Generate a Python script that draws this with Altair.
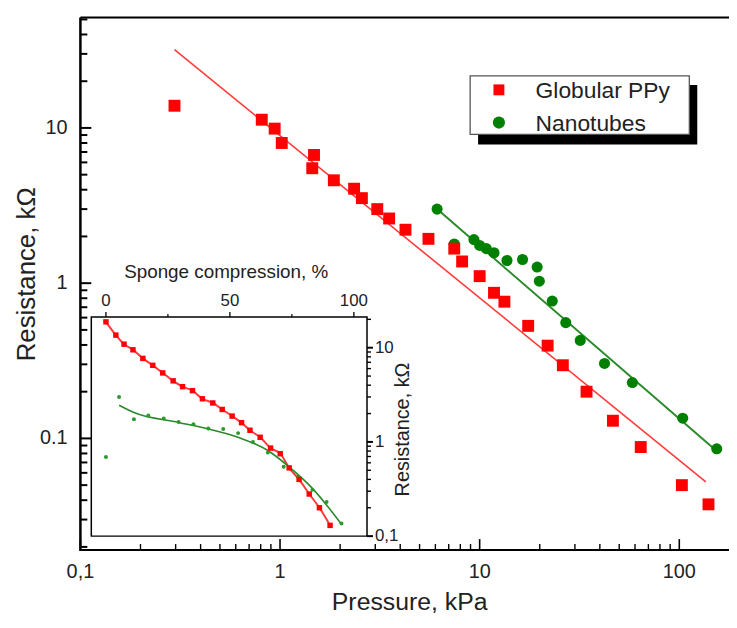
import altair as alt
import pandas as pd

# ---------------- data ----------------
SERIES = ["Globular PPy", "Nanotubes"]

# main plot: pressure (kPa) vs resistance (kOhm)
P_red = [0.296, 0.81, 0.94, 1.02, 1.48, 1.45, 1.86, 2.35, 2.57, 3.07, 3.52, 4.25, 5.54,
         7.46, 8.17, 10.0, 11.8, 13.3, 17.5, 21.9, 26.1, 34.3, 46.5, 64.1, 103, 140]
R_red = [13.9, 11.3, 9.9, 8.0, 6.7, 5.5, 4.6, 4.06, 3.53, 3.0, 2.61, 2.21, 1.93,
         1.67, 1.38, 1.11, 0.867, 0.76, 0.531, 0.396, 0.296, 0.20, 0.13, 0.088, 0.050, 0.0376]

P_green = [6.12, 7.46, 9.36, 10.0, 10.8, 11.8, 13.7, 16.4, 19.4, 19.9, 23.1, 27.0, 31.9,
           42.2, 58.2, 104, 154]
R_green = [3.0, 1.79, 1.91, 1.75, 1.67, 1.57, 1.40, 1.42, 1.27, 1.03, 0.767, 0.557, 0.428,
           0.304, 0.229, 0.135, 0.0857]

# power-law fit lines (end points)
P_fit_red = [0.296, 135.8]
R_fit_red = [31.9, 0.0525]
P_fit_green = [6.12, 149.3]
R_fit_green = [3.0, 0.0857]

# inset: sponge compression (%) vs resistance (kOhm)
C_red = [0, 4, 7.3, 10.9, 14.9, 18.9, 22.9, 27.1, 30.9, 34.9, 38.9, 43.1, 46.9, 50.9,
         54.7, 58.1, 62.2, 66.4, 70.3, 73.9, 77.9, 82, 86.1, 90.4]
RC_red = [18.8, 13.6, 10.9, 9.5, 7.7, 6.5, 5.4, 4.45, 3.86, 3.5, 2.87, 2.59, 2.21, 1.88,
          1.60, 1.33, 1.12, 0.86, 0.75, 0.53, 0.40, 0.28, 0.20, 0.13]
C_green = [0, 5.3, 11.3, 17.1, 23.3, 29.3, 35.3, 41.3, 47.3, 53.3, 59.3, 65.3, 71.7,
           77.6, 83.3, 89, 95]
RC_green = [0.69, 3.0, 1.74, 1.91, 1.77, 1.63, 1.54, 1.39, 1.37, 1.24, 1.0, 0.77, 0.545,
            0.43, 0.31, 0.23, 0.136]
C_fit_green = [5.3, 11.3, 29.3, 41.3, 53.3, 65.3, 74.7, 82.7, 95]
RC_fit_green = [2.45, 2.05, 1.61, 1.37, 1.12, 0.81, 0.52, 0.333, 0.134]

# tick values / labels
X_MAJOR = [0.1, 1, 10, 100]
X_LABELS = ["0,1", "1", "10", "100"]
X_MINOR = [0.2, 0.3, 0.4, 0.5, 0.6, 0.7, 0.8, 0.9, 2, 3, 4, 5, 6, 7, 8, 9,
           20, 30, 40, 50, 60, 70, 80, 90]
Y_MAJOR = [0.1, 1, 10]
Y_LABELS = ["0.1", "1", "10"]
Y_MINOR = [0.02, 0.03, 0.04, 0.05, 0.06, 0.07, 0.08, 0.09, 0.2, 0.3, 0.4, 0.5, 0.6, 0.7,
           0.8, 0.9, 2, 3, 4, 5, 6, 7, 8, 9, 20, 30, 40, 50]
INSET_X_MAJOR = [0, 50, 100]
INSET_X_LABELS = ["0", "50", "100"]
INSET_X_MINOR = [25, 75]
INSET_Y_MAJOR = [0.1, 1, 10]
INSET_Y_LABELS = ["0,1", "1", "10"]
INSET_Y_MINOR = [0.2, 0.3, 0.4, 0.5, 0.6, 0.7, 0.8, 0.9, 2, 3, 4, 5, 6, 7, 8, 9, 20]

X_TITLE = "Pressure, kPa"
Y_TITLE = "Resistance, kΩ"
INSET_X_TITLE = "Sponge compression, %"
INSET_Y_TITLE = "Resistance, kΩ"

# ---------------- layout ----------------
FONT = "Liberation Sans"
TXT = "#222222"
RED = "#ff0000"
RED_LINE = "#ff3b3b"
GREEN = "#008000"
GREEN_LINE = "#2a8a2a"

W, H = 654, 537
X_DOM = [0.1, 177.4]
Y_DOM = [0.0191, 51.5]
# inset box inside the plot area (pixels)
IX0, IX1, IY0, IY1 = 11, 289, 302, 523
IX_DOM = [-5.9, 105.3]
IY_DOM = [0.1, 21.2]

one = pd.DataFrame({"k": [0]})

xs = alt.Scale(type="log", domain=X_DOM, nice=False)
ys = alt.Scale(type="log", domain=Y_DOM, nice=False)

df_red = pd.DataFrame({"P": P_red, "R": R_red})
df_green = pd.DataFrame({"P": P_green, "R": R_green})
df_fr = pd.DataFrame({"P": P_fit_red, "R": R_fit_red})
df_fg = pd.DataFrame({"P": P_fit_green, "R": R_fit_green})


def X(f, s):
    return alt.X(f, scale=s, axis=None)


def Y(f, s):
    return alt.Y(f, scale=s, axis=None)


fit_red = alt.Chart(df_fr).mark_line(color=RED_LINE, strokeWidth=1.6).encode(
    x=X("P:Q", xs), y=Y("R:Q", ys))
fit_green = alt.Chart(df_fg).mark_line(color=GREEN_LINE, strokeWidth=2).encode(
    x=X("P:Q", xs), y=Y("R:Q", ys))
pts_green = alt.Chart(df_green).mark_circle(color=GREEN, size=125, opacity=1).encode(
    x=X("P:Q", xs), y=Y("R:Q", ys))
pts_red = alt.Chart(df_red).mark_square(color=RED, size=144, opacity=1).encode(
    x=X("P:Q", xs), y=Y("R:Q", ys))

# inward ticks of the main frame
xt_major = alt.Chart(pd.DataFrame({"v": X_MAJOR})).mark_rule(color="black", strokeWidth=1.6).encode(
    x=X("v:Q", xs), y=alt.value(H), y2=alt.value(H - 11))
xt_minor = alt.Chart(pd.DataFrame({"v": X_MINOR})).mark_rule(color="black", strokeWidth=1.4).encode(
    x=X("v:Q", xs), y=alt.value(H), y2=alt.value(H - 6))
yt_major = alt.Chart(pd.DataFrame({"v": Y_MAJOR})).mark_rule(color="black", strokeWidth=2).encode(
    y=Y("v:Q", ys), x=alt.value(0), x2=alt.value(11))
yt_minor = alt.Chart(pd.DataFrame({"v": Y_MINOR})).mark_rule(color="black", strokeWidth=2).encode(
    y=Y("v:Q", ys), x=alt.value(0), x2=alt.value(7))

# tick labels and titles (as text marks)
xl = alt.Chart(pd.DataFrame({"v": X_MAJOR, "t": X_LABELS})).mark_text(
    fontSize=20, font=FONT, color=TXT, baseline="middle", align="center").encode(
    x=X("v:Q", xs), y=alt.value(H + 22.5), text="t:N")
yl = alt.Chart(pd.DataFrame({"v": Y_MAJOR, "t": Y_LABELS})).mark_text(
    fontSize=20, font=FONT, color=TXT, baseline="middle", align="right").encode(
    y=Y("v:Q", ys), x=alt.value(-13), text="t:N")
xtitle = alt.Chart(one).mark_text(text=X_TITLE, fontSize=25, font=FONT, color=TXT,
                                  baseline="alphabetic", align="center").encode(
    x=alt.value(332), y=alt.value(H + 60))
ytitle = alt.Chart(one).mark_text(text=Y_TITLE, fontSize=26, font=FONT, color=TXT,
                                  baseline="middle", align="center", angle=270).encode(
    x=alt.value(-54), y=alt.value(259))

# frame lines (left, bottom, top)
f_top = alt.Chart(one).mark_rule(color="black", strokeWidth=2).encode(
    x=alt.value(0), x2=alt.value(W + 10), y=alt.value(0))
f_left = alt.Chart(one).mark_rule(color="black", strokeWidth=2.5).encode(
    x=alt.value(0), y=alt.value(0), y2=alt.value(H + 1))
f_bottom = alt.Chart(one).mark_rule(color="black", strokeWidth=2.2).encode(
    x=alt.value(0), x2=alt.value(W + 10), y=alt.value(H))

# legend box with shadow
LX0, LY0, LX1, LY1 = 393, 59, 614, 118
leg_shadow = alt.Chart(one).mark_rect(color="black").encode(
    x=alt.value(LX0 + 8), x2=alt.value(LX1 + 8), y=alt.value(LY0 + 9), y2=alt.value(LY1 + 10))
leg_box = alt.Chart(one).mark_rect(fill="white", stroke="#555555", strokeWidth=1.3).encode(
    x=alt.value(LX0), x2=alt.value(LX1), y=alt.value(LY0), y2=alt.value(LY1))
leg_sq = alt.Chart(one).mark_square(color=RED, size=121, opacity=1).encode(
    x=alt.value(422), y=alt.value(73))
leg_ci = alt.Chart(one).mark_circle(color=GREEN, size=150, opacity=1).encode(
    x=alt.value(422), y=alt.value(106))
leg_t1 = alt.Chart(one).mark_text(text=SERIES[0], align="left", baseline="middle",
                                  fontSize=23, font=FONT, color=TXT).encode(
    x=alt.value(459), y=alt.value(74))
leg_t2 = alt.Chart(one).mark_text(text=SERIES[1], align="left", baseline="middle",
                                  fontSize=23, font=FONT, color=TXT).encode(
    x=alt.value(459), y=alt.value(107))

# inset box
inset_box = alt.Chart(one).mark_rect(filled=False, stroke="black", strokeWidth=1.5).encode(
    x=alt.value(IX0), x2=alt.value(IX1), y=alt.value(IY0), y2=alt.value(IY1))

main = alt.layer(
    f_top, f_left, f_bottom, xt_major, xt_minor, yt_major, yt_minor,
    fit_red, fit_green, pts_green, pts_red,
    leg_shadow, leg_box, leg_sq, leg_ci, leg_t1, leg_t2, inset_box,
    xl, yl, xtitle, ytitle,
)

# ---------------- inset ----------------
ixs = alt.Scale(domain=IX_DOM, range=[IX0, IX1], nice=False, zero=False)
iys = alt.Scale(type="log", domain=IY_DOM, range=[IY1, IY0], nice=False)

df_ir = pd.DataFrame({"C": C_red, "R": RC_red})
df_ig = pd.DataFrame({"C": C_green, "R": RC_green})
df_igf = pd.DataFrame({"C": C_fit_green, "R": RC_fit_green})

ixt_major = alt.Chart(pd.DataFrame({"v": INSET_X_MAJOR})).mark_rule(color="black", strokeWidth=1.3).encode(
    x=X("v:Q", ixs), y=alt.value(IY0), y2=alt.value(IY0 - 5))
ixt_minor = alt.Chart(pd.DataFrame({"v": INSET_X_MINOR})).mark_rule(color="black", strokeWidth=1.2).encode(
    x=X("v:Q", ixs), y=alt.value(IY0), y2=alt.value(IY0 - 3))
iyt_major = alt.Chart(pd.DataFrame({"v": INSET_Y_MAJOR})).mark_rule(color="black", strokeWidth=2).encode(
    y=Y("v:Q", iys), x=alt.value(IX1), x2=alt.value(IX1 + 6))
iyt_minor = alt.Chart(pd.DataFrame({"v": INSET_Y_MINOR})).mark_rule(color="black", strokeWidth=1.4).encode(
    y=Y("v:Q", iys), x=alt.value(IX1), x2=alt.value(IX1 + 4))

ixl = alt.Chart(pd.DataFrame({"v": INSET_X_MAJOR, "t": INSET_X_LABELS})).mark_text(
    fontSize=17, font=FONT, color=TXT, baseline="alphabetic", align="center").encode(
    x=X("v:Q", ixs), y=alt.value(IY0 - 11), text="t:N")
iyl = alt.Chart(pd.DataFrame({"v": INSET_Y_MAJOR, "t": INSET_Y_LABELS})).mark_text(
    fontSize=17, font=FONT, color=TXT, baseline="middle", align="left").encode(
    y=Y("v:Q", iys), x=alt.value(IX1 + 8), text="t:N")
ixtitle = alt.Chart(one).mark_text(text=INSET_X_TITLE, fontSize=19, font=FONT, color=TXT,
                                   baseline="middle", align="center").encode(
    x=alt.value(147), y=alt.value(IY0 - 45))
iytitle = alt.Chart(one).mark_text(text=INSET_Y_TITLE, fontSize=20, font=FONT, color=TXT,
                                   baseline="middle", align="center", angle=270).encode(
    x=alt.value(IX1 + 36.5), y=alt.value(415.5))

in_red_line = alt.Chart(df_ir).mark_line(color=RED_LINE, strokeWidth=2, interpolate="monotone").encode(
    x=X("C:Q", ixs), y=Y("R:Q", iys))
in_red_pts = alt.Chart(df_ir).mark_square(color=RED, size=30, opacity=1).encode(
    x=X("C:Q", ixs), y=Y("R:Q", iys))
in_green_line = alt.Chart(df_igf).mark_line(color=GREEN_LINE, strokeWidth=1.6, interpolate="monotone").encode(
    x=X("C:Q", ixs), y=Y("R:Q", iys))
in_green_pts = alt.Chart(df_ig).mark_circle(color="#2a9a2a", size=16, opacity=1).encode(
    x=X("C:Q", ixs), y=Y("R:Q", iys))

inset = alt.layer(in_red_line, in_green_line, in_green_pts, in_red_pts,
                  ixt_major, ixt_minor, iyt_major, iyt_minor, ixl, iyl, ixtitle, iytitle)

chart = alt.layer(main, inset).resolve_scale(
    x="independent", y="independent"
).properties(
    width=W, height=H,
    autosize=alt.AutoSizeParams(type="none"),
    padding={"left": 73, "top": 7, "right": 0, "bottom": 63},
).configure_view(stroke=None).configure(font=FONT)

chart.save("out.html", embed_options={"renderer": "svg", "actions": False})
